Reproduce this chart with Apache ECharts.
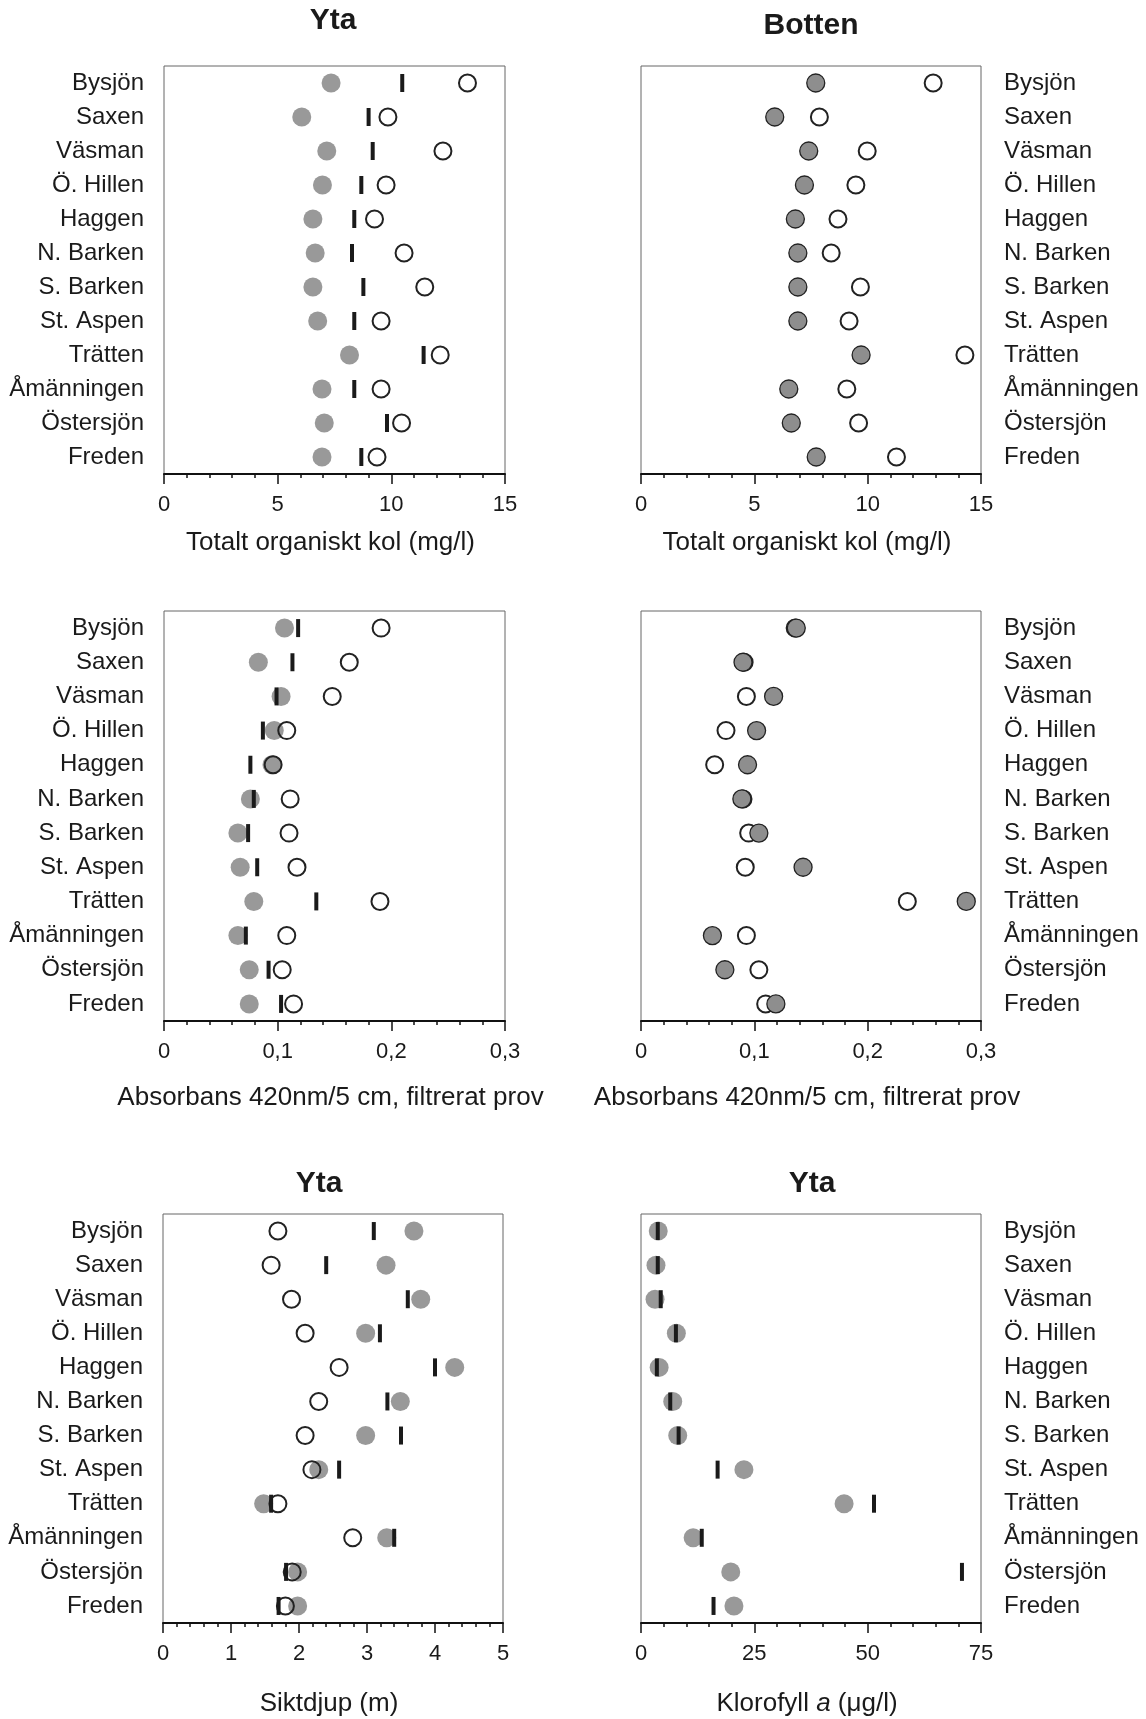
<!DOCTYPE html>
<html>
<head>
<meta charset="utf-8">
<script src="https://cdn.jsdelivr.net/npm/echarts@6/dist/echarts.min.js"></script>
<style>
html, body { margin: 0; padding: 0; background: #fff; }
#chart { width: 1146px; height: 1719px; }
</style>
</head>
<body>
<div id="chart"></div>
<script>
const lakes = ['Bysjön', 'Saxen', 'Väsman', 'Ö. Hillen', 'Haggen', 'N. Barken', 'S. Barken', 'St. Aspen', 'Trätten', 'Åmänningen', 'Östersjön', 'Freden']

// Totalt organiskt kol, yta
const tocYtaGray = [7.35, 6.06, 7.16, 6.97, 6.55, 6.65, 6.55, 6.76, 8.16, 6.95, 7.05, 6.95]
const tocYtaBar = [10.48, 9.0, 9.18, 8.68, 8.37, 8.27, 8.77, 8.37, 11.42, 8.37, 9.81, 8.68]
const tocYtaOpen = [13.35, 9.85, 12.27, 9.77, 9.26, 10.56, 11.47, 9.55, 12.15, 9.55, 10.45, 9.37]
// Totalt organiskt kol, botten
const tocBottenGray = [7.71, 5.9, 7.4, 7.21, 6.81, 6.92, 6.92, 6.92, 9.71, 6.52, 6.63, 7.73]
const tocBottenOpen = [12.89, 7.87, 9.98, 9.48, 8.69, 8.39, 9.68, 9.18, 14.29, 9.08, 9.6, 11.27]
// Absorbans, yta
const absYtaGray = [0.106, 0.083, 0.103, 0.097, 0.095, 0.076, 0.065, 0.067, 0.079, 0.065, 0.075, 0.075]
const absYtaBar = [0.118, 0.113, 0.099, 0.087, 0.076, 0.079, 0.074, 0.082, 0.134, 0.072, 0.092, 0.103]
const absYtaOpen = [0.191, 0.163, 0.148, 0.108, 0.096, 0.111, 0.110, 0.117, 0.190, 0.108, 0.104, 0.114]
// Absorbans, botten
const absBottenGray = [0.137, 0.090, 0.117, 0.102, 0.094, 0.089, 0.104, 0.143, 0.287, 0.063, 0.074, 0.119]
const absBottenOpen = [0.136, 0.091, 0.093, 0.075, 0.065, 0.090, 0.095, 0.092, 0.235, 0.093, 0.104, 0.110]
// Siktdjup
const siktGray = [3.69, 3.28, 3.79, 2.98, 4.29, 3.49, 2.98, 2.29, 1.48, 3.29, 1.98, 1.98]
const siktBar = [3.1, 2.4, 3.6, 3.19, 4.0, 3.3, 3.5, 2.59, 1.59, 3.4, 1.81, 1.7]
const siktOpen = [1.69, 1.59, 1.89, 2.09, 2.59, 2.29, 2.09, 2.19, 1.69, 2.79, 1.9, 1.8]
// Klorofyll a
const klorGray = [3.8, 3.3, 3.1, 7.8, 4.0, 7.0, 8.1, 22.7, 44.8, 11.5, 19.8, 20.5]
const klorBar = [3.7, 3.7, 4.35, 7.7, 3.5, 6.45, 8.3, 16.9, 51.4, 13.4, 70.8, 16.0]

const tocTicks = [0, 5, 10, 15]
const absTicks = [0, 0.1, 0.2, 0.3]
const siktTicks = [0, 1, 2, 3, 4, 5]
const klorTicks = [0, 25, 50, 75]

const FONT = '"Liberation Sans", Arial, Helvetica, sans-serif'
const INK = '#1a1a1a'

function pts(vals) {
  return vals.map((v, i) => [v, lakes[i]])
}

function commaFmt(v) {
  return v === 0 ? '0' : String(+v.toFixed(2)).replace('.', ',')
}

function xAxisOf(gridIndex, ticks, name, nameGap, rich) {
  return {
    type: 'value',
    gridIndex: gridIndex,
    min: ticks[0],
    max: ticks[ticks.length - 1],
    interval: ticks[1] - ticks[0],
    name: name,
    nameLocation: 'middle',
    nameGap: nameGap,
    nameTextStyle: { fontFamily: FONT, fontSize: 26, color: INK, padding: [0, 8, 0, 0], rich: rich },
    axisLine: { show: true, onZero: false, lineStyle: { color: '#111', width: 2 } },
    axisTick: { show: true, length: 10, lineStyle: { color: '#111', width: 1.5 } },
    minorTick: { show: true, splitNumber: 5, length: 4, lineStyle: { color: '#111', width: 1.5 } },
    axisLabel: { margin: 20, fontFamily: FONT, fontSize: 22, color: INK, formatter: commaFmt },
    splitLine: { show: false },
    minorSplitLine: { show: false }
  }
}

function yAxisOf(gridIndex, side) {
  return {
    type: 'category',
    gridIndex: gridIndex,
    data: lakes,
    inverse: true,
    position: side,
    axisLine: { show: false },
    axisTick: { show: false },
    splitLine: { show: false },
    axisLabel: { margin: side === 'left' ? 20 : 23, interval: 0, padding: [10, 0, 0, 0],
      fontFamily: FONT, fontSize: 24, color: INK }
  }
}

// grå fylld punkt (yta), grå med kant (botten), öppen ring, svart streck
function gray(idx, vals) {
  return { type: 'scatter', xAxisIndex: idx, yAxisIndex: idx, data: pts(vals), symbol: 'circle', symbolSize: 19,
    itemStyle: { color: '#999999', opacity: 1 }, z: 2, silent: true }
}
function grayEdge(idx, vals) {
  return { type: 'scatter', xAxisIndex: idx, yAxisIndex: idx, data: pts(vals), symbol: 'circle', symbolSize: 18,
    itemStyle: { color: '#8e8e8e', borderColor: '#222', borderWidth: 1.3, opacity: 1 }, z: 3, silent: true }
}
function open(idx, vals) {
  return { type: 'scatter', xAxisIndex: idx, yAxisIndex: idx, data: pts(vals), symbol: 'circle', symbolSize: 17,
    itemStyle: { color: 'rgba(255,255,255,0)', borderColor: '#222', borderWidth: 2, opacity: 1 }, z: 2, silent: true }
}
function bar(idx, vals) {
  return { type: 'scatter', xAxisIndex: idx, yAxisIndex: idx, data: pts(vals), symbol: 'rect', symbolSize: [4, 18],
    itemStyle: { color: '#1a1a1a', opacity: 1 }, z: 4, silent: true }
}

const gridStyle = { show: true, borderColor: '#666', borderWidth: 1, backgroundColor: 'transparent', containLabel: false }

const option = {
  animation: false,
  backgroundColor: '#fff',
  grid: [
    Object.assign({ left: 164, top: 66, width: 341, height: 408 }, gridStyle),
    Object.assign({ left: 641, top: 66, width: 340, height: 408 }, gridStyle),
    Object.assign({ left: 164, top: 611, width: 341, height: 410 }, gridStyle),
    Object.assign({ left: 641, top: 611, width: 340, height: 410 }, gridStyle),
    Object.assign({ left: 163, top: 1214, width: 340, height: 409 }, gridStyle),
    Object.assign({ left: 641, top: 1214, width: 340, height: 409 }, gridStyle)
  ],
  xAxis: [
    xAxisOf(0, tocTicks, 'Totalt organiskt kol (mg/l)', 56),
    xAxisOf(1, tocTicks, 'Totalt organiskt kol (mg/l)', 56),
    xAxisOf(2, absTicks, 'Absorbans 420nm/5 cm, filtrerat prov', 64),
    xAxisOf(3, absTicks, 'Absorbans 420nm/5 cm, filtrerat prov', 64),
    xAxisOf(4, siktTicks, 'Siktdjup (m)', 68),
    xAxisOf(5, klorTicks, 'Klorofyll {i|a} (μg/l)', 68, { i: { fontFamily: FONT, fontSize: 26, color: INK, fontStyle: 'italic' } })
  ],
  yAxis: [
    yAxisOf(0, 'left'),
    yAxisOf(1, 'right'),
    yAxisOf(2, 'left'),
    yAxisOf(3, 'right'),
    yAxisOf(4, 'left'),
    yAxisOf(5, 'right')
  ],
  graphic: [
    { type: 'text', x: 333, y: 21, style: { text: 'Yta', fontFamily: FONT, fontSize: 30, fontWeight: 'bold', fill: INK, align: 'center', verticalAlign: 'middle' } },
    { type: 'text', x: 811, y: 26, style: { text: 'Botten', fontFamily: FONT, fontSize: 30, fontWeight: 'bold', fill: INK, align: 'center', verticalAlign: 'middle' } },
    { type: 'text', x: 319, y: 1184, style: { text: 'Yta', fontFamily: FONT, fontSize: 30, fontWeight: 'bold', fill: INK, align: 'center', verticalAlign: 'middle' } },
    { type: 'text', x: 812, y: 1184, style: { text: 'Yta', fontFamily: FONT, fontSize: 30, fontWeight: 'bold', fill: INK, align: 'center', verticalAlign: 'middle' } }
  ],
  series: [
    gray(0, tocYtaGray), open(0, tocYtaOpen), bar(0, tocYtaBar),
    open(1, tocBottenOpen), grayEdge(1, tocBottenGray),
    gray(2, absYtaGray), open(2, absYtaOpen), bar(2, absYtaBar),
    open(3, absBottenOpen), grayEdge(3, absBottenGray),
    gray(4, siktGray), open(4, siktOpen), bar(4, siktBar),
    gray(5, klorGray), bar(5, klorBar)
  ]
}

const chart = echarts.init(document.getElementById('chart'))
chart.setOption(option)
</script>
</body>
</html>
